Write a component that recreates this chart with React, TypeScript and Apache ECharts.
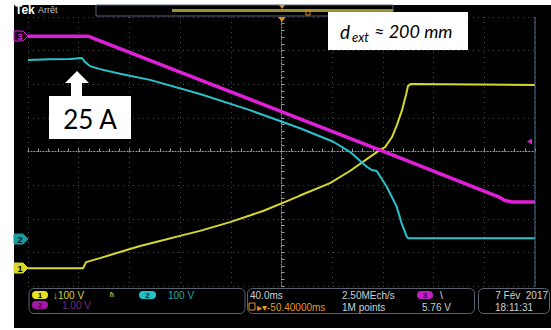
import React, { useEffect, useRef } from "react";
import * as echarts from "echarts";

// Time axis in ms (40 ms/div, 10 div), vertical in divisions (8 div)
const xTicks = { min: -200, max: 200, interval: 40 };
const yTicks = { min: -4, max: 4, interval: 1 };

// Channel 3 (magenta)
const ch3Time = [-200, -152.7, -147.2, -143.2, -64.3, 14.6, 93.5, 170.8, 176.3, 181.9, 200];
const ch3Div = [3.43, 3.43, 3.35, 3.29, 2.13, 0.97, -0.19, -1.34, -1.46, -1.5, -1.5];

// Channel 2 (cyan)
const ch2Time = [-200, -182.7, -166.9, -157.4, -155.0, -151.1, -143.2, -127.4, -103.8, -64.3, -24.9, 14.6, 40.9, 54.0, 67.2, 71.2, 75.1, 83.0, 90.9, 94.8, 98.8, 100.0, 200];
const ch2Div = [2.72, 2.74, 2.75, 2.78, 2.66, 2.54, 2.45, 2.31, 2.13, 1.71, 1.23, 0.69, 0.29, -0.01, -0.45, -0.55, -0.58, -1.05, -1.64, -2.14, -2.53, -2.58, -2.58];

// Channel 1 (yellow)
const ch1Time = [-200, -156.6, -154.2, -143.2, -127.4, -111.6, -95.9, -80.1, -64.3, -40.6, -14.6, 6.7, 14.6, 38.3, 54.0, 69.8, 77.7, 81.7, 87.2, 91.1, 95.1, 98.2, 99.8, 102.2, 200];
const ch1Div = [-3.47, -3.47, -3.29, -3.17, -2.99, -2.81, -2.66, -2.51, -2.36, -2.1, -1.77, -1.44, -1.31, -0.94, -0.58, -0.16, 0.05, 0.13, 0.43, 0.79, 1.23, 1.68, 1.95, 2.01, 1.98];

const pair = (xs: number[], ys: number[]) => xs.map((x, i) => [x, ys[i]]);

const MAG = "#e020d8";
const CYA = "#28c4cc";
const YEL = "#d8d828";
const UIF = '"Liberation Sans", Arial, sans-serif';

function txt(x: number, y: number, text: string, fill: string, font: string, align = "left", z = 50) {
  return {
    type: "text",
    x,
    y,
    z,
    style: { text, fill, font, align, textAlign: align, verticalAlign: "middle", textVerticalAlign: "middle" },
  };
}

function chanMarker(y: number, label: string, fill: string, stroke: string, textFill: string) {
  return [
    {
      type: "polygon",
      z: 40,
      shape: { points: [[14, y - 5], [23, y - 5], [28, y], [23, y + 5], [14, y + 5]] },
      style: { fill, stroke, lineWidth: 1 },
    },
    txt(20, y + 0.5, label, textFill, `bold 9px ${UIF}`, "center", 41),
  ];
}

function badge(x: number, y: number, w: number, label: string, fill: string, textFill: string) {
  return [
    { type: "rect", z: 40, shape: { x, y, width: w, height: 8, r: 4 }, style: { fill } },
    txt(x + w / 2, y + 4.5, label, textFill, `bold 8px ${UIF}`, "center", 41),
  ];
}

export default function App() {
  const ref = useRef<HTMLDivElement>(null);

  useEffect(() => {
    if (!ref.current) return;
    const chart = echarts.init(ref.current, undefined, { renderer: "svg" });

    const gridLine = { color: "#474c54", type: [1, 4] as any, width: 1 };
    const crossLine = { color: "#9a9ea4", type: [1, 2] as any, width: 1 };

    const graphic: any[] = [
      // top bar
      txt(15, 10, "Tek", "#ffffff", `bold 12px ${UIF}`),
      txt(38, 10, "Arrêt", "#c8c8c8", `9px ${UIF}`),
      { type: "rect", z: 30, shape: { x: 96, y: 5, width: 297, height: 11 }, style: { fill: "#000", stroke: "#56657a", lineWidth: 1 } },
      { type: "rect", z: 31, shape: { x: 172, y: 9, width: 221, height: 3 }, style: { fill: "#9a9030" } },
      { type: "polygon", z: 32, shape: { points: [[279, 5], [285, 5], [282, 9]] }, style: { fill: "#e08a1a" } },
      { type: "polygon", z: 32, shape: { points: [[278, 17], [286, 17], [282, 22]] }, style: { fill: "#e08a1a" } },
      { type: "rect", z: 32, shape: { x: 306, y: 10, width: 4, height: 5 }, style: { fill: "none", stroke: "#e08a1a", lineWidth: 1 } },
      // right edge
      { type: "line", z: 30, shape: { x1: 535, y1: 17, x2: 535, y2: 287 }, style: { stroke: "#4a6f95", lineWidth: 1 } },
      // trigger level marker
      { type: "polygon", z: 32, shape: { points: [[527, 141.5], [532, 138.5], [532, 144.5]] }, style: { fill: MAG } },
      // channel markers
      ...chanMarker(36, "3", "#1a001a", MAG, MAG),
      ...chanMarker(239, "2", "#1a9a9e", "#1a9a9e", "#002020"),
      ...chanMarker(268, "1", YEL, YEL, "#000"),
      // d_ext annotation
      { type: "rect", z: 60, shape: { x: 328, y: 12, width: 140, height: 38 }, style: { fill: "#ffffff" } },
      txt(340, 31, "d", "#000", `italic 19px Lato, "Open Sans", sans-serif`, "left", 61),
      txt(352, 37, "ext", "#000", `italic 13px Lato, "Open Sans", sans-serif`, "left", 61),
      txt(374, 31, "≈ 200 mm", "#000", `italic 18px Lato, "Open Sans", sans-serif`, "left", 61),
      // 25 A annotation
      { type: "rect", z: 60, shape: { x: 49, y: 96, width: 82, height: 43 }, style: { fill: "#ffffff" } },
      txt(90, 119, "25 A", "#000", `26px Lato, "Open Sans", sans-serif`, "center", 61),
      {
        type: "polygon",
        z: 60,
        shape: { points: [[77, 71], [89, 83], [82, 83], [82, 97], [71, 97], [71, 83], [65, 83]] },
        style: { fill: "#ffffff" },
      },
      // bottom info boxes
      { type: "rect", z: 30, shape: { x: 29, y: 288.5, width: 216, height: 25, r: 5 }, style: { fill: "#000", stroke: "#5a6270", lineWidth: 1 } },
      { type: "rect", z: 30, shape: { x: 247.5, y: 288.5, width: 227, height: 25, r: 5 }, style: { fill: "#000", stroke: "#5a6270", lineWidth: 1 } },
      { type: "rect", z: 30, shape: { x: 478.5, y: 288.5, width: 71, height: 25, r: 5 }, style: { fill: "#000", stroke: "#5a6270", lineWidth: 1 } },
      ...badge(32, 291, 16, "1", "#e8e020", "#000"),
      ...badge(32, 301, 16, "2", "#a818a8", "#400040"),
      ...badge(139, 291, 17, "2", "#22c0c8", "#003030"),
      ...badge(417, 291, 16, "3", "#c020c0", "#400040"),
      txt(53, 295, "↓100 V", "#d8d040", `10px ${UIF}`),
      txt(110, 295, "ʱ", "#c8c030", `bold 10px ${UIF}`),
      txt(168, 295, "100 V", "#20a8a8", `10px ${UIF}`),
      txt(62, 305.5, "1.00 V", "#7a2a7a", `10px ${UIF}`),
      txt(250, 295, "40.0ms", "#d0d0d0", `10px ${UIF}`),
      { type: "rect", z: 41, shape: { x: 249, y: 303, width: 6, height: 7 }, style: { fill: "none", stroke: "#e8962a", lineWidth: 1 } },
      txt(257, 307, "▸▾-50.40000ms", "#e8962a", `10px ${UIF}`),
      txt(342, 295, "2.50MEch/s", "#d0d0d0", `10px ${UIF}`),
      txt(342, 307, "1M points", "#d0d0d0", `10px ${UIF}`),
      txt(440, 295, "\\", "#e0e0e0", `10px ${UIF}`),
      txt(422, 307, "5.76 V", "#d0d0d0", `10px ${UIF}`),
      txt(548, 295, "7 Fév  2017", "#d0d0d0", `10px ${UIF}`, "right"),
      txt(495, 307, "18:11:31", "#d0d0d0", `10px ${UIF}`),
    ];

    chart.setOption({
      animation: false,
      backgroundColor: "transparent",
      grid: { left: 28, top: 17, width: 507, height: 269, containLabel: false },
      xAxis: {
        type: "value",
        min: xTicks.min,
        max: xTicks.max,
        interval: xTicks.interval,
        axisLabel: { show: false },
        axisLine: { show: true, onZero: true, lineStyle: crossLine },
        axisTick: { show: true, inside: true, length: 3, lineStyle: { color: "#9a9ea4" } },
        minorTick: { show: true, splitNumber: 5, length: 3, lineStyle: { color: "#9a9ea4" } },
        splitLine: { show: true, lineStyle: gridLine },
      },
      yAxis: {
        type: "value",
        min: yTicks.min,
        max: yTicks.max,
        interval: yTicks.interval,
        axisLabel: { show: false },
        axisLine: { show: true, onZero: true, lineStyle: crossLine },
        axisTick: { show: true, inside: true, length: 3, lineStyle: { color: "#9a9ea4" } },
        minorTick: { show: true, splitNumber: 5, length: 3, lineStyle: { color: "#9a9ea4" } },
        splitLine: { show: true, lineStyle: gridLine },
      },
      series: [
        {
          type: "line",
          name: "CH1",
          data: pair(ch1Time, ch1Div),
          symbol: "none",
          lineStyle: { color: YEL, width: 2 },
          z: 3,
        },
        {
          type: "line",
          name: "CH2",
          data: pair(ch2Time, ch2Div),
          symbol: "none",
          lineStyle: { color: CYA, width: 2 },
          z: 4,
        },
        {
          type: "line",
          name: "CH3",
          data: pair(ch3Time, ch3Div),
          symbol: "none",
          lineStyle: { color: MAG, width: 3.5 },
          z: 5,
        },
      ],
      graphic,
    });

    return () => chart.dispose();
  }, []);

  return (
    <div style={{ position: "absolute", left: 0, top: 0, width: 551, height: 330, background: "#ffffff" }}>
      <div style={{ position: "absolute", left: 14, top: 5, width: 537, height: 323, background: "#000000" }} />
      <div ref={ref} style={{ position: "absolute", left: 0, top: 0, width: 551, height: 330 }} />
    </div>
  );
}
